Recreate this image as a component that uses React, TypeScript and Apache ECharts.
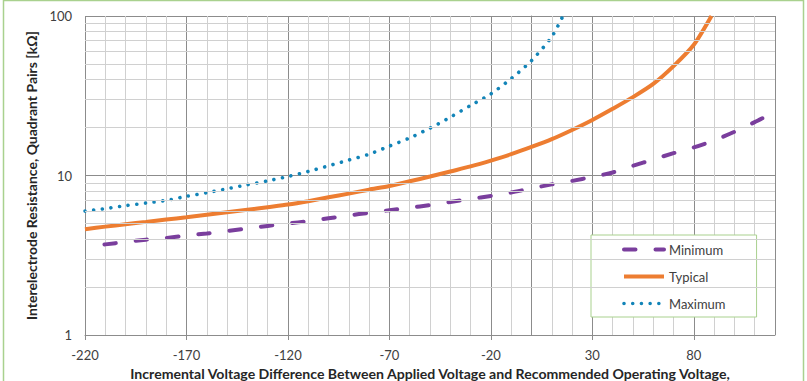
import React, { useEffect, useRef } from 'react';
import * as echarts from 'echarts';

// Interelectrode resistance vs. incremental voltage (log scale)
const minVoltage = [-220, -210, -200, -190, -180, -170, -160, -150, -140, -130, -120, -110, -100, -90, -80, -70, -60, -50, -40, -30, -20, -10, 0, 10, 20, 30, 40, 50, 60, 70, 80, 90, 100, 110, 115];
const minResistance = [3.58, 3.7, 3.83, 3.96, 4.06, 4.2, 4.33, 4.48, 4.65, 4.83, 5.0, 5.17, 5.39, 5.62, 5.84, 6.06, 6.28, 6.53, 6.82, 7.13, 7.45, 7.82, 8.3, 8.8, 9.25, 9.8, 10.45, 11.5, 12.6, 13.8, 15.0, 16.6, 18.8, 21.6, 23.3];

const typVoltage = [-220, -210, -200, -190, -180, -170, -160, -150, -140, -130, -120, -110, -100, -90, -80, -70, -60, -50, -40, -30, -20, -10, 0, 10, 20, 30, 40, 50, 60, 70, 80, 88.7];
const typResistance = [4.6, 4.78, 4.95, 5.12, 5.3, 5.47, 5.67, 5.88, 6.1, 6.33, 6.57, 6.9, 7.3, 7.7, 8.15, 8.6, 9.2, 9.85, 10.6, 11.4, 12.4, 13.6, 15.1, 16.9, 19.3, 22.3, 26.2, 31.0, 37.5, 48.5, 66, 100];

const maxVoltage = [-220, -210, -200, -190, -180, -170, -160, -150, -140, -130, -120, -110, -100, -90, -80, -70, -60, -50, -40, -30, -20, -10, 0, 10, 15.5];
const maxResistance = [5.98, 6.2, 6.47, 6.72, 6.98, 7.4, 7.8, 8.25, 8.75, 9.25, 9.85, 10.6, 11.5, 12.5, 13.6, 15.3, 17.2, 19.8, 23.2, 27.5, 32.5, 40.5, 52.5, 74, 100];

// Minor horizontal gridlines of the log axis
const minorResistanceLines = [2, 3, 4, 5, 6, 7, 8, 9, 20, 30, 40, 50, 60, 70, 80, 90];

const seriesNames = ['Minimum', 'Typical', 'Maximum'];
const seriesWidths = [4, 4, 3.6];

const FONT = 'Lato';
const GREEN = '#A9D18E';

const pairs = (xs: number[], ys: number[]) => xs.map((x, i) => [x, ys[i]]);

export default function App() {
  const ref = useRef<HTMLDivElement>(null);

  useEffect(() => {
    if (!ref.current) return;
    const chart = echarts.init(ref.current, undefined, { renderer: 'svg' });
    chart.setOption({
      animation: false,
      backgroundColor: '#ffffff',
      grid: { left: 85, top: 16, right: 32, bottom: 46, containLabel: false, outerBoundsMode: 'none' },
      graphic: [
        {
          type: 'rect',
          shape: { x: 3.5, y: 0.5, width: 800, height: 420 },
          style: { fill: 'none', stroke: GREEN, lineWidth: 1.5 },
          silent: true,
          z: 100,
        },
      ],
      legend: {
        orient: 'vertical',
        left: 591,
        top: 235,
        data: seriesNames.map((name, i) => ({
          name,
          lineStyle: { width: seriesWidths[i], dashOffset: 0 },
        })),
        itemWidth: 40,
        itemHeight: 14,
        itemGap: 14,
        padding: [8, 31, 7, 31],
        backgroundColor: '#ffffff',
        borderColor: GREEN,
        borderWidth: 1,
        borderRadius: 0,
        itemStyle: { color: 'rgba(0,0,0,0)', borderWidth: 0 },
        lineStyle: { dashOffset: 0 },
        textStyle: { fontFamily: FONT, fontSize: 13, color: '#404040' },
      },
      xAxis: {
        type: 'value',
        min: -220,
        max: 120,
        interval: 50,
        name: 'Incremental Voltage Difference Between Applied Voltage and Recommended Operating Voltage,',
        nameLocation: 'middle',
        nameGap: 31,
        nameTextStyle: { fontFamily: FONT, fontSize: 14.1, fontWeight: 'bold', color: '#262626' },
        axisLine: { show: true, lineStyle: { color: '#8c8c8c', width: 1 } },
        axisTick: { show: true, length: 5, lineStyle: { color: '#8c8c8c' } },
        axisLabel: { margin: 13, fontFamily: FONT, fontSize: 13, color: '#404040', showMaxLabel: false },
        splitLine: { show: true, lineStyle: { color: '#8c8c8c', width: 1 } },
        minorTick: { show: false, splitNumber: 5 },
        minorSplitLine: { show: true, lineStyle: { color: '#d0d0d0', width: 1 } },
      },
      yAxis: {
        type: 'log',
        logBase: 10,
        min: 1,
        max: 100,
        name: 'Interelectrode Resistance, Quadrant Pairs [kΩ]',
        nameLocation: 'middle',
        nameRotate: 90,
        nameGap: 35,
        nameTextStyle: { fontFamily: FONT, fontSize: 14, fontWeight: 'bold', color: '#262626' },
        axisLine: { show: true, lineStyle: { color: '#8c8c8c', width: 1 } },
        axisTick: { show: true, length: 5, lineStyle: { color: '#8c8c8c' } },
        axisLabel: { margin: 13, fontFamily: FONT, fontSize: 13, color: '#404040' },
        splitLine: { show: true, lineStyle: { color: '#8c8c8c', width: 1 } },
      },
      series: [
        {
          name: 'grid-minor',
          type: 'line',
          z: 1,
          data: [[-220, 1]],
          symbol: 'none',
          lineStyle: { opacity: 0 },
          silent: true,
          markLine: {
            silent: true,
            symbol: ['none', 'none'],
            label: { show: false },
            lineStyle: { color: '#d0d0d0', width: 1, type: 'solid' },
            emphasis: { disabled: true },
            data: minorResistanceLines.map((v) => ({ yAxis: v })),
          },
        },
        {
          name: 'Minimum',
          type: 'line',
          z: 3,
          data: pairs(minVoltage, minResistance),
          symbol: 'none',
          showSymbol: false,
          smooth: 0.25,
          clip: true,
          color: '#7A3E9D',
          lineStyle: { color: '#7A3E9D', width: seriesWidths[0], type: [11.5, 20], dashOffset: 12, cap: 'round' },
        },
        {
          name: 'Typical',
          type: 'line',
          z: 3,
          data: pairs(typVoltage, typResistance),
          symbol: 'none',
          showSymbol: false,
          smooth: 0.25,
          clip: true,
          color: '#ED7D31',
          lineStyle: { color: '#ED7D31', width: seriesWidths[1], type: 'solid' },
        },
        {
          name: 'Maximum',
          type: 'line',
          z: 3,
          data: pairs(maxVoltage, maxResistance),
          symbol: 'none',
          showSymbol: false,
          smooth: 0.25,
          clip: true,
          color: '#1284B8',
          lineStyle: { color: '#1284B8', width: seriesWidths[2], type: [0.01, 8.7], cap: 'round' },
        },
      ],
    });
    return () => chart.dispose();
  }, []);

  return (
    <div
      ref={ref}
      style={{ position: 'absolute', left: 0, top: 0, width: 807, height: 381, background: '#fff' }}
    />
  );
}
